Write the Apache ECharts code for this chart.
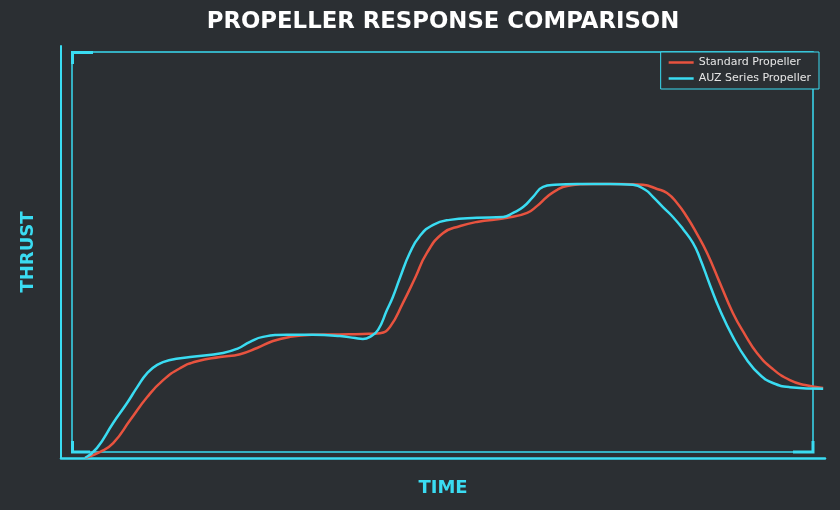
<!DOCTYPE html>
<html>
<head>
<meta charset="utf-8">
<script src="https://cdn.jsdelivr.net/npm/echarts@6/dist/echarts.min.js"></script>
<style>
html,body{margin:0;padding:0;background:#2b2f33;}
#c{width:840px;height:510px;}
</style>
</head>
<body>
<div id="c"></div>
<script>
var titleText = 'PROPELLER RESPONSE COMPARISON';
var xName = 'TIME';
var yName = 'THRUST';
var seriesNames = ['Standard Propeller', 'AUZ Series Propeller'];

var standardTime = [0, 0.41, 0.76, 1.22, 1.68, 2.11, 2.57, 3.03, 3.65, 4.19, 4.65, 5.08, 5.54, 6.16, 6.89, 7.51, 7.97, 8.24, 8.59, 8.92, 9.24, 9.68, 10.14, 10.59, 11.41, 11.95, 12.22, 12.49, 12.76, 13.03, 13.73, 14.46, 15.08, 15.46, 15.73, 16.0, 16.27, 16.54, 16.81, 17.16, 17.51, 17.84, 18.16, 18.59, 19.05, 19.46, 19.95];
var standardThrust = [0, 1.5, 3.6, 9.2, 14.8, 18.9, 21.8, 23.5, 24.5, 25.2, 26.7, 28.4, 29.4, 29.9, 30.0, 30.1, 30.3, 31.8, 37.6, 43.7, 49.8, 54.6, 56.3, 57.3, 58.3, 59.5, 61.2, 63.4, 65.1, 66.0, 66.5, 66.5, 66.3, 65.3, 64.3, 61.9, 58.5, 54.4, 49.8, 42.5, 35.2, 29.9, 25.5, 21.6, 18.9, 17.7, 17.0];

var auzTime = [0, 0.32, 0.76, 1.14, 1.41, 1.68, 1.95, 2.3, 2.84, 3.73, 4.11, 4.46, 4.81, 5.46, 6.16, 6.89, 7.3, 7.51, 7.7, 7.92, 8.16, 8.32, 8.51, 8.78, 9.05, 9.41, 9.86, 10.59, 11.3, 11.57, 11.84, 12.11, 12.38, 12.7, 13.3, 14.19, 14.81, 15.14, 15.35, 15.62, 15.89, 16.16, 16.43, 16.62, 16.89, 17.16, 17.51, 17.89, 18.24, 18.59, 19.05, 19.95];
var auzThrust = [0, 2.4, 8.5, 13.4, 17.2, 20.6, 22.6, 23.8, 24.5, 25.5, 26.5, 28.2, 29.4, 29.9, 29.9, 29.6, 29.1, 28.9, 29.4, 31.1, 35.9, 39.1, 43.7, 49.8, 53.9, 56.6, 57.8, 58.3, 58.5, 59.5, 60.9, 63.4, 65.8, 66.3, 66.5, 66.5, 66.3, 65.1, 63.4, 60.9, 58.5, 55.6, 52.2, 48.5, 42.0, 35.9, 29.4, 23.8, 20.2, 18.2, 17.2, 16.8];

function pairs(xs, ys) { return xs.map(function (x, i) { return [x, ys[i]]; }); }

var cyan = '#3adcf2';
var red = '#e8533f';
var chart = echarts.init(document.getElementById('c'));
chart.setOption({
  backgroundColor: '#2b2f33',
  animation: false,
  title: {
    text: titleText,
    left: 438,
    textAlign: 'center',
    top: 6,
    textStyle: { color: '#ffffff', fontSize: 22.8, fontWeight: 'bold', fontFamily: 'DejaVu Sans' }
  },
  legend: {
    data: seriesNames,
    orient: 'vertical',
    right: 21,
    top: 52,
    icon: 'rect',
    itemWidth: 25,
    itemHeight: 2.5,
    itemGap: 5,
    padding: [5, 8, 5, 8],
    backgroundColor: '#2b2f33',
    borderColor: cyan,
    borderWidth: 1,
    z: 10,
    textStyle: { color: '#e6e6e6', fontSize: 11, fontFamily: 'DejaVu Sans' }
  },
  grid: [
    { left: 61, right: 15, top: 46, bottom: 52 },
    { left: 72, right: 27, top: 52, bottom: 58, show: true, borderColor: cyan, borderWidth: 1.5, backgroundColor: 'transparent' }
  ],
  xAxis: [
    {
      type: 'value', gridIndex: 0, min: -0.65, max: 20,
      name: xName, nameLocation: 'middle', nameGap: 21,
      nameTextStyle: { color: cyan, fontSize: 18, fontWeight: 'bold', fontFamily: 'DejaVu Sans' },
      axisLine: { show: true, onZero: false, lineStyle: { color: cyan, width: 2.5 } },
      axisTick: { show: false }, axisLabel: { show: false }, splitLine: { show: false }
    },
    { type: 'value', gridIndex: 1, show: false }
  ],
  yAxis: [
    {
      type: 'value', gridIndex: 0, min: 0, max: 100,
      name: yName, nameLocation: 'middle', nameGap: 24,
      nameTextStyle: { color: cyan, fontSize: 18, fontWeight: 'bold', fontFamily: 'DejaVu Sans' },
      axisLine: { show: true, onZero: false, lineStyle: { color: cyan, width: 2 } },
      axisTick: { show: false }, axisLabel: { show: false }, splitLine: { show: false }
    },
    { type: 'value', gridIndex: 1, show: false }
  ],
  graphic: [
    { type: 'polyline', z: 5, shape: { points: [[72.5, 64], [72.5, 52.5], [93, 52.5]] }, style: { stroke: cyan, lineWidth: 3, fill: null } },
    { type: 'polyline', z: 5, shape: { points: [[72.5, 441], [72.5, 452], [90, 452]] }, style: { stroke: cyan, lineWidth: 3, fill: null } },
    { type: 'polyline', z: 5, shape: { points: [[793, 452], [813, 452], [813, 441]] }, style: { stroke: cyan, lineWidth: 3, fill: null } }
  ],
  series: [
    {
      name: seriesNames[0], type: 'line', xAxisIndex: 0, yAxisIndex: 0,
      data: pairs(standardTime, standardThrust), smooth: 0.5, symbol: 'none',
      lineStyle: { color: red, width: 2.5 }, itemStyle: { color: red }, z: 3
    },
    {
      name: seriesNames[1], type: 'line', xAxisIndex: 0, yAxisIndex: 0,
      data: pairs(auzTime, auzThrust), smooth: 0.5, symbol: 'none',
      lineStyle: { color: cyan, width: 2.5 }, itemStyle: { color: cyan }, z: 4
    }
  ]
});
</script>
</body>
</html>
